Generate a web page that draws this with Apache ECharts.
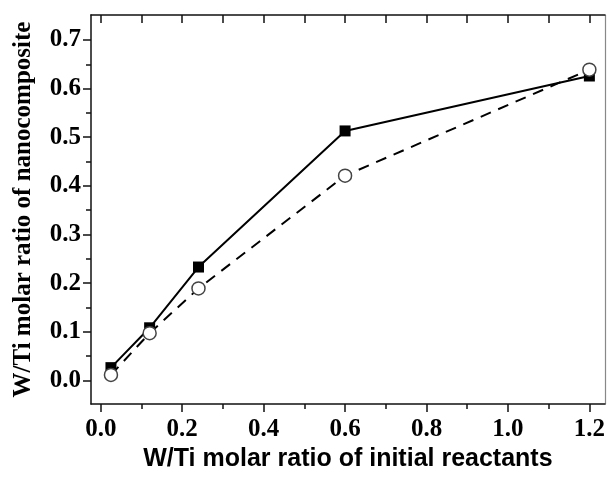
<!DOCTYPE html>
<html>
<head>
<meta charset="utf-8">
<script src="https://cdn.jsdelivr.net/npm/echarts@6/dist/echarts.min.js"></script>
<style>html,body{margin:0;padding:0;background:#fff;}#c{width:608px;height:477px;}</style>
</head>
<body>
<div id="c"></div>
<script>
// Data
const xValues = [0.025, 0.12, 0.24, 0.60, 1.20];
const squareSeries = [0.026, 0.108, 0.233, 0.513, 0.626];
const circleSeries = [0.011, 0.097, 0.189, 0.421, 0.639];
const xTickLabels = [0.0, 0.2, 0.4, 0.6, 0.8, 1.0, 1.2];
const xMinorTicks = [0.1, 0.3, 0.5, 0.7, 0.9, 1.1];
const xTopTicks = [0.0, 0.1, 0.2, 0.3, 0.4, 0.5, 0.6, 0.7, 0.8, 0.9, 1.0, 1.1, 1.2];
const yTickLabels = [0.0, 0.1, 0.2, 0.3, 0.4, 0.5, 0.6, 0.7];
const yMinorTicks = [0.05, 0.15, 0.25, 0.35, 0.45, 0.55, 0.65];
const xTitle = 'W/Ti molar ratio of initial reactants';
const yTitle = 'W/Ti molar ratio of nanocomposite';

const X_MIN = -0.024, X_MAX = 1.238, Y_MIN = -0.049, Y_MAX = 0.7515;
const serif = '"Liberation Serif", "Times New Roman", serif';
const lineCol = '#111';

const chart = echarts.init(document.getElementById('c'));
const baseX = { type: 'value', min: X_MIN, max: X_MAX, splitLine: { show: false } };
const baseY = { type: 'value', min: Y_MIN, max: Y_MAX, splitLine: { show: false } };

chart.setOption({
  animation: false,
  backgroundColor: '#fff',
  grid: { left: 91, right: 3, top: 15, bottom: 72, containLabel: false },
  xAxis: [
    Object.assign({}, baseX, {
      position: 'bottom',
      axisLine: { show: true, onZero: false, lineStyle: { color: lineCol, width: 1.5 } },
      axisTick: { show: true, inside: false, length: 8, customValues: xTickLabels, lineStyle: { color: lineCol, width: 1.5 } },
      axisLabel: { show: true, customValues: xTickLabels, margin: 13, color: '#000', fontFamily: serif, fontWeight: 'bold', fontSize: 25,
        formatter: v => v.toFixed(1) },
      name: xTitle, nameLocation: 'middle', nameGap: 42,
      nameTextStyle: { color: '#000', fontFamily: '"Liberation Sans", Arial, sans-serif', fontWeight: 'bold', fontSize: 25 }
    }),
    Object.assign({}, baseX, {
      position: 'bottom',
      axisLine: { show: false, onZero: false },
      axisTick: { show: true, inside: false, length: 5, customValues: xMinorTicks, lineStyle: { color: lineCol, width: 1.5 } },
      axisLabel: { show: false }
    }),
    Object.assign({}, baseX, {
      position: 'top',
      axisLine: { show: true, onZero: false, lineStyle: { color: lineCol, width: 1.5 } },
      axisTick: { show: true, inside: true, length: 8, customValues: xTopTicks, lineStyle: { color: lineCol, width: 1.5 } },
      axisLabel: { show: false }
    })
  ],
  yAxis: [
    Object.assign({}, baseY, {
      position: 'left',
      axisLine: { show: true, onZero: false, lineStyle: { color: lineCol, width: 1.5 } },
      axisTick: { show: true, inside: false, length: 8, customValues: yTickLabels, lineStyle: { color: lineCol, width: 1.5 } },
      axisLabel: { show: true, customValues: yTickLabels, margin: 10, color: '#000', fontFamily: serif, fontWeight: 'bold', fontSize: 25,
        formatter: v => v.toFixed(1) },
      name: yTitle, nameLocation: 'middle', nameGap: 55, nameRotate: 90,
      nameTextStyle: { color: '#000', fontFamily: serif, fontWeight: 'bold', fontSize: 25 }
    }),
    Object.assign({}, baseY, {
      position: 'left',
      axisLine: { show: false, onZero: false },
      axisTick: { show: true, inside: false, length: 5, customValues: yMinorTicks, lineStyle: { color: lineCol, width: 1.5 } },
      axisLabel: { show: false }
    }),
    Object.assign({}, baseY, {
      position: 'right',
      axisLine: { show: true, onZero: false, lineStyle: { color: '#888', width: 1.2 } },
      axisTick: { show: false },
      axisLabel: { show: false }
    })
  ],
  series: [
    {
      type: 'line', xAxisIndex: 0, yAxisIndex: 0,
      data: xValues.map((x, i) => [x, squareSeries[i]]),
      symbol: 'rect', symbolSize: 11, showAllSymbol: true,
      lineStyle: { color: '#000', width: 2 },
      itemStyle: { color: '#000' },
      z: 3
    },
    {
      type: 'line', xAxisIndex: 0, yAxisIndex: 0,
      data: xValues.map((x, i) => [x, circleSeries[i]]),
      symbol: 'circle', symbolSize: 13, showAllSymbol: true,
      lineStyle: { color: '#000', width: 2, type: [11, 8] },
      itemStyle: { color: '#fff', borderColor: '#444', borderWidth: 1.5 },
      z: 4
    }
  ]
});
</script>
</body>
</html>
